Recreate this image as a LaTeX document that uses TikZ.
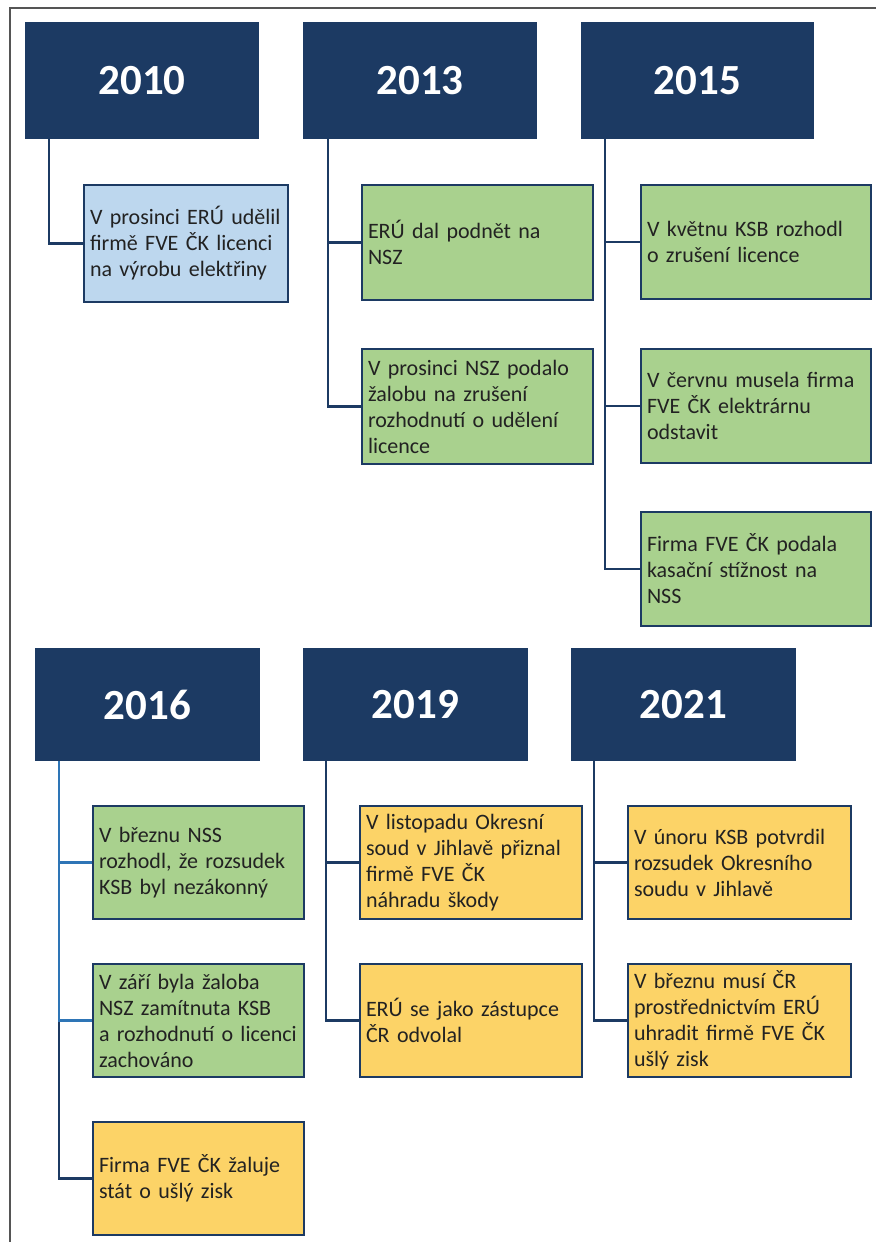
\documentclass[tikz,border=0pt]{standalone}
\usepackage{fontspec}
\setmainfont{Carlito}
\definecolor{navy}{HTML}{1C3A63}
\definecolor{lblue}{HTML}{BDD7EE}
\definecolor{lgreen}{HTML}{A9D18E}
\definecolor{lyellow}{HTML}{FCD367}
\definecolor{midblue}{HTML}{2E75B6}
\definecolor{txt}{HTML}{222222}
\definecolor{framegray}{HTML}{555555}
\tikzset{
  year/.style={draw=navy, fill=navy, line width=1pt, anchor=north west, inner sep=0pt,
    text=white, font=\fontsize{43}{46}\selectfont\bfseries, align=center},
  ev/.style={draw=navy, line width=2pt, anchor=north west, inner xsep=6pt, inner ysep=0pt,
    text=txt, font=\fontsize{22}{26}\selectfont, align=left},
  conn/.style={draw=navy, line width=2.2pt},
  conn2/.style={draw=midblue, line width=2.2pt},
}
\begin{document}
\begin{tikzpicture}[x=1pt,y=-1pt]
\useasboundingbox (0,0) rectangle (876,1242);
% frame
\draw[framegray, line width=1.6pt] (10,1242) -- (10,8) -- (876,8);

% ---- row 1 ----
\node[year, minimum width=233, minimum height=116] (y2010) at (25,22) {2010};
\node[year, minimum width=233, minimum height=116] (y2013) at (303,22) {2013};
\node[year, minimum width=232, minimum height=116] (y2015) at (581,22) {2015};

\node[ev, fill=lblue, text width=192, minimum height=117] (a1) at (83,184)
  {V prosinci ERÚ udělil\\firmě FVE ČK licenci\\na výrobu elektřiny};

\node[ev, fill=lgreen, text width=219, minimum height=115] (b1) at (361,184)
  {ERÚ dal podnět na\\NSZ};
\node[ev, fill=lgreen, text width=219, minimum height=115] (b2) at (361,348)
  {V prosinci NSZ podalo\\žalobu na zrušení\\rozhodnutí o udělení\\licence};

\node[ev, fill=lgreen, text width=218, minimum height=114] (c1) at (640,184)
  {V květnu KSB rozhodl\\o zrušení licence};
\node[ev, fill=lgreen, text width=218, minimum height=114] (c2) at (640,348)
  {V červnu musela firma\\FVE ČK elektrárnu\\odstavit};
\node[ev, fill=lgreen, text width=218, minimum height=114] (c3) at (640,511)
  {Firma FVE ČK podala\\kasační stížnost na\\NSS};

\draw[conn] ([xshift=24pt]y2010.south west) |- (a1.west);
\draw[conn] ([xshift=25pt]y2013.south west) |- (b2.west);
\draw[conn] ([xshift=25pt]y2013.south west) |- (b1.west);
\draw[conn] ([xshift=24pt]y2015.south west) |- (c3.west);
\draw[conn] ([xshift=24pt]y2015.south west) |- (c2.west);
\draw[conn] ([xshift=24pt]y2015.south west) |- (c1.west);

% ---- row 2 ----
\node[year, minimum width=224, minimum height=112] (y2016) at (35,648) {2016};
\node[year, minimum width=224, minimum height=112] (y2019) at (303,648) {2019};
\node[year, minimum width=224, minimum height=112] (y2021) at (571,648) {2021};

\node[ev, fill=lgreen, text width=199, minimum height=113] (d1) at (92,805)
  {V březnu NSS\\rozhodl, že rozsudek\\KSB byl nezákonný};
\node[ev, fill=lgreen, text width=199, minimum height=113] (d2) at (92,963)
  {V září byla žaloba\\NSZ zamítnuta KSB\\a rozhodnutí o licenci\\zachováno};
\node[ev, fill=lyellow, text width=199, minimum height=113] (d3) at (92,1121)
  {Firma FVE ČK žaluje\\stát o ušlý zisk};

\node[ev, fill=lyellow, text width=210, minimum height=113] (e1) at (359,805)
  {V listopadu Okresní\\soud v Jihlavě přiznal\\firmě FVE ČK\\náhradu škody};
\node[ev, fill=lyellow, text width=210, minimum height=113] (e2) at (359,963)
  {ERÚ se jako zástupce\\ČR odvolal};

\node[ev, fill=lyellow, text width=211, minimum height=113] (f1) at (627,805)
  {V únoru KSB potvrdil\\rozsudek Okresního\\soudu v Jihlavě};
\node[ev, fill=lyellow, text width=211, minimum height=113] (f2) at (627,963)
  {V březnu musí ČR\\prostřednictvím ERÚ\\uhradit firmě FVE ČK\\ušlý zisk};

\draw[conn] ([xshift=24pt]y2016.south west) |- (d3.west);
\draw[conn2] ([xshift=24pt]y2016.south west) |- (d2.west);
\draw[conn2] ([xshift=24pt]y2016.south west) |- (d1.west);
\draw[conn] ([xshift=23pt]y2019.south west) |- (e2.west);
\draw[conn] ([xshift=23pt]y2019.south west) |- (e1.west);
\draw[conn] ([xshift=23pt]y2021.south west) |- (f2.west);
\draw[conn] ([xshift=23pt]y2021.south west) |- (f1.west);
\end{tikzpicture}
\end{document}
